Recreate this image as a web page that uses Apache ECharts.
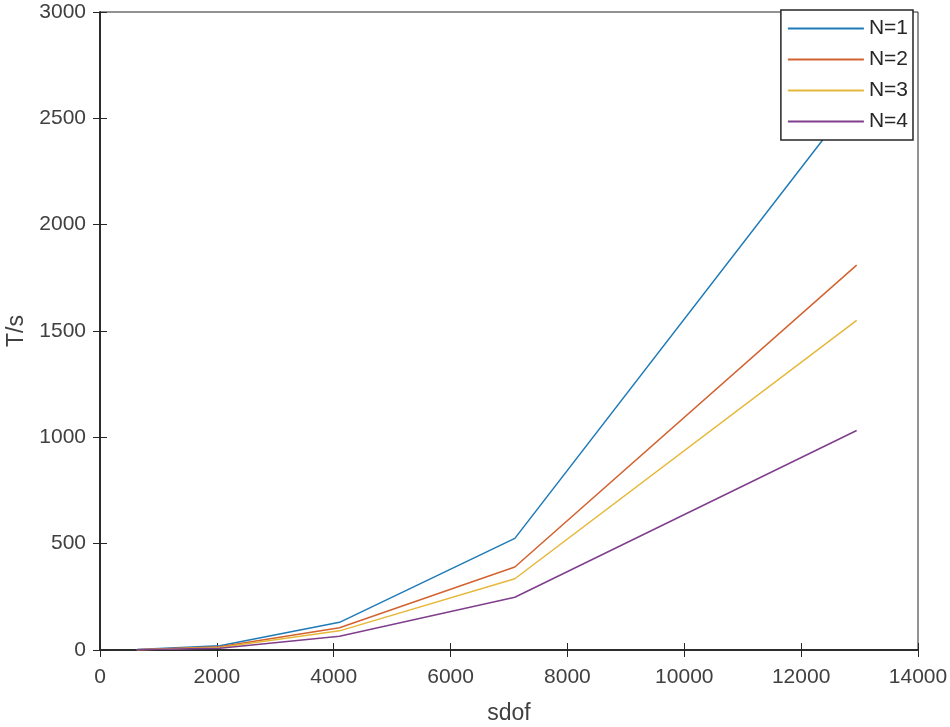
<!DOCTYPE html>
<html>
<head>
<meta charset="utf-8">
<script src="https://cdn.jsdelivr.net/npm/echarts@6/dist/echarts.min.js"></script>
<style>
  html, body { margin: 0; padding: 0; background: #fff; }
  #chart { width: 950px; height: 727px; }
</style>
</head>
<body>
<div id="chart"></div>
<script>
// sdof values (x) and run time T/s for each N
const sdof = [630, 2050, 4100, 7100, 12950];
const tN1 = [2, 20, 130, 525, 2605];
const tN2 = [1, 15, 105, 390, 1810];
const tN3 = [1, 12, 90, 335, 1550];
const tN4 = [1, 8, 65, 248, 1032];
const seriesNames = ['N=1', 'N=2', 'N=3', 'N=4'];
const seriesColors = ['#1f7ab8', '#d2622f', '#e6b83a', '#7f3f8c'];

const chart = echarts.init(document.getElementById('chart'));
const font = '"Liberation Sans", Arial, sans-serif';
const axisColor = '#262626';
const labelColor = '#404040';

const pairs = (ys) => sdof.map((x, i) => [x, ys[i]]);
const plain = (v) => String(v);

const inTick = { show: true, inside: true, length: 7, lineStyle: { color: axisColor, width: 1 } };

chart.setOption({
  backgroundColor: '#fff',
  animation: false,
  grid: {
    left: 100, right: 32, top: 12, bottom: 77,
    outerBoundsMode: 'none', containLabel: false,
    show: true, borderColor: axisColor, borderWidth: 1
  },
  legend: {
    orient: 'vertical', right: 37, top: 10,
    icon: 'rect', itemWidth: 76, itemHeight: 2, itemGap: 10,
    padding: [8, 5, 8, 7],
    backgroundColor: '#fff', borderColor: axisColor, borderWidth: 1.5,
    textStyle: { fontFamily: font, fontSize: 21, lineHeight: 21, color: axisColor },
    data: seriesNames
  },
  xAxis: [
    {
      type: 'value', min: 0, max: 14000, interval: 2000,
      name: 'sdof', nameLocation: 'middle', nameGap: 52,
      nameTextStyle: { fontFamily: font, fontSize: 23, color: labelColor },
      axisLine: { show: true, lineStyle: { color: axisColor, width: 1.5 } },
      axisTick: inTick,
      axisLabel: { fontFamily: font, fontSize: 21, color: labelColor, margin: 17, formatter: plain },
      splitLine: { show: false }
    },
    {
      type: 'value', position: 'top', min: 0, max: 14000, interval: 2000,
      axisLine: { show: true, lineStyle: { color: axisColor, width: 1.5 } },
      axisTick: inTick, axisLabel: { show: false }, splitLine: { show: false }
    }
  ],
  yAxis: [
    {
      type: 'value', min: 0, max: 3000, interval: 500,
      name: 'T/s', nameLocation: 'middle', nameGap: 70, nameRotate: 90,
      nameTextStyle: { fontFamily: font, fontSize: 23, color: labelColor },
      axisLine: { show: true, lineStyle: { color: axisColor, width: 1.5 } },
      axisTick: inTick,
      axisLabel: { fontFamily: font, fontSize: 21, color: labelColor, margin: 14, formatter: plain },
      splitLine: { show: false }
    },
    {
      type: 'value', position: 'right', min: 0, max: 3000, interval: 500,
      axisLine: { show: true, lineStyle: { color: axisColor, width: 1.5 } },
      axisTick: inTick, axisLabel: { show: false }, splitLine: { show: false }
    }
  ],
  series: [tN1, tN2, tN3, tN4].map((ys, i) => ({
    name: seriesNames[i], type: 'line', symbol: 'none',
    lineStyle: { color: seriesColors[i], width: 1.5 },
    itemStyle: { color: seriesColors[i] },
    data: pairs(ys)
  }))
});
</script>
</body>
</html>
